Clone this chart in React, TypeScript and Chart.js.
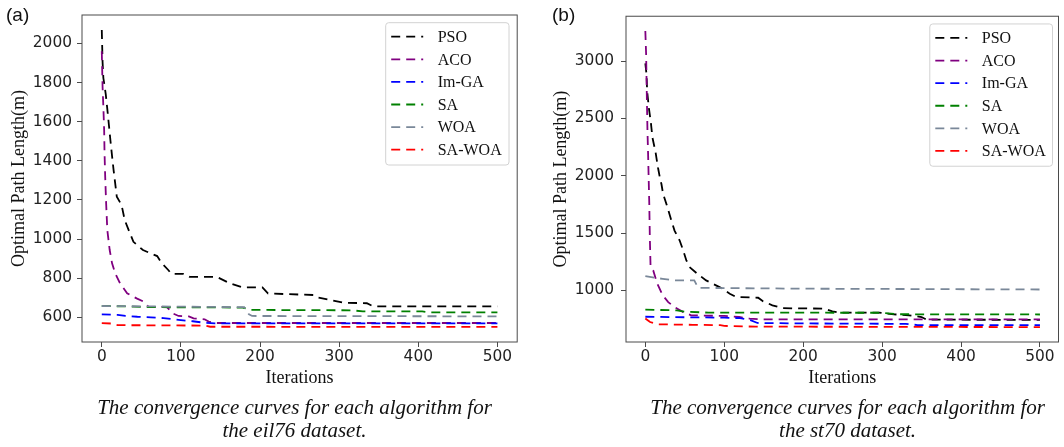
import React, { useEffect, useRef } from "react";
import { Chart, registerables } from "chart.js";

Chart.register(...registerables);

type Pt = [number, number];

const algorithms = ["PSO", "ACO", "Im-GA", "SA", "WOA", "SA-WOA"];
const lineColors = ["#000000", "#800080", "#0000ff", "#008000", "#7a8899", "#ff0000"];

const iterationTicks = [0, 100, 200, 300, 400, 500];
const eil76Ticks = [600, 800, 1000, 1200, 1400, 1600, 1800, 2000];
const st70Ticks = [1000, 1500, 2000, 2500, 3000];

// eil76: best path length vs. iteration, listed at the curve's break points
const eil76PSO: Pt[] = [
  [0, 2068], [1, 1905], [2, 1823], [5, 1741], [7, 1664], [9, 1583], [11, 1501], [13, 1424],
  [15, 1350], [19, 1216], [25, 1174], [29, 1097], [34, 1046], [40, 986], [52, 944], [70, 913],
  [76, 876], [84, 842], [88, 822], [103, 822], [111, 807], [145, 807], [162, 774], [178, 753],
  [203, 753], [210, 722], [268, 714], [273, 702], [290, 688], [305, 675], [335, 672], [343, 656],
  [500, 656],
];
const eil76ACO: Pt[] = [
  [0, 1960], [1, 1778], [2, 1676], [3, 1557], [3.5, 1438], [4.3, 1320], [5.5, 1183], [7, 1046],
  [10, 944], [13, 876], [17, 825], [23, 774], [32, 723], [44, 697], [53, 680], [59, 654],
  [82, 654], [90, 620], [97, 607], [110, 605], [116, 595], [130, 590], [135, 578], [143, 571],
  [500, 571],
];
const eil76ImGA: Pt[] = [
  [0, 615], [20, 613], [30, 607], [45, 603], [62, 600], [78, 596], [97, 587], [115, 580],
  [130, 572], [145, 569], [500, 569],
];
const eil76SA: Pt[] = [
  [0, 658], [40, 655], [60, 652], [178, 650], [188, 638], [315, 636], [330, 631], [405, 630],
  [415, 625], [500, 625],
];
const eil76WOA: Pt[] = [[0, 658], [180, 652], [186, 615], [190, 607], [500, 605]];
const eil76SAWOA: Pt[] = [[0, 570], [15, 568], [20, 560], [130, 558], [137, 552], [500, 551]];

// st70: best path length vs. iteration
const st70PSO: Pt[] = [
  [0, 2980], [1.5, 2884], [2.3, 2739], [4.4, 2594], [7, 2464], [9, 2333], [13, 2203], [16, 2072],
  [19, 1963], [20.4, 1928], [22.5, 1841], [26.7, 1754], [33, 1609], [37, 1522], [43.5, 1435],
  [48, 1348], [52, 1261], [56, 1203], [66, 1145], [77, 1087], [94, 1029], [107, 971], [115, 942],
  [143, 936], [149, 905], [161, 870], [174, 845], [226, 841], [237, 817], [245, 806], [296, 806],
  [315, 791], [334, 783], [350, 768], [356, 745], [500, 743],
];
const st70ACO: Pt[] = [
  [0, 3262], [1, 3058], [1.5, 2855], [2, 2652], [2.7, 2391], [3.5, 2189], [4.2, 1985], [5, 1754],
  [5.7, 1463], [6.6, 1210], [10, 1174], [15, 1060], [22, 957], [29, 898], [37, 855], [48, 811],
  [58, 783], [100, 777], [119, 768], [132, 754], [149, 748], [500, 748],
];
const st70ImGA: Pt[] = [
  [0, 770], [50, 766], [100, 762], [120, 758], [134, 739], [142, 716], [200, 712], [330, 708],
  [345, 698], [500, 697],
];
const st70SA: Pt[] = [[0, 832], [40, 826], [50, 815], [80, 806], [300, 805], [320, 792], [500, 790]];
const st70WOA: Pt[] = [
  [0, 1125], [12, 1110], [22, 1101], [37, 1088], [62, 1087], [67, 1022], [200, 1015], [500, 1008],
];
const st70SAWOA: Pt[] = [
  [0, 755], [3, 740], [6, 724], [16, 704], [60, 700], [95, 697], [100, 690], [140, 684], [500, 680],
];

const eil76Series = [eil76PSO, eil76ACO, eil76ImGA, eil76SA, eil76WOA, eil76SAWOA];
const st70Series = [st70PSO, st70ACO, st70ImGA, st70SA, st70WOA, st70SAWOA];

const DASH = [9, 6];
const LINE_W = 1.8;
const SERIF = "'Liberation Serif', 'Times New Roman', serif";
const SANS = "'DejaVu Sans', sans-serif";

// Closed box around the plotting area
const framePlugin = {
  id: "frame",
  afterDatasetsDraw(chart: any) {
    const { ctx, chartArea: a } = chart;
    ctx.save();
    ctx.setLineDash([]);
    ctx.strokeStyle = "#4a4a4a";
    ctx.lineWidth = 1;
    ctx.strokeRect(a.left, a.top, a.right - a.left, a.bottom - a.top);
    ctx.restore();
  },
};

// Framed legend in the upper right corner of the plotting area
const boxLegendPlugin = {
  id: "boxLegend",
  afterDraw(chart: any, _args: any, opts: any) {
    const { ctx, chartArea: a } = chart;
    const w = opts.width;
    const h = opts.height;
    const x0 = a.right - opts.insetRight - w;
    const y0 = a.top + opts.insetTop;
    ctx.save();
    ctx.setLineDash([]);
    ctx.beginPath();
    if ((ctx as any).roundRect) (ctx as any).roundRect(x0, y0, w, h, 3);
    else ctx.rect(x0, y0, w, h);
    ctx.fillStyle = "rgba(255,255,255,0.9)";
    ctx.fill();
    ctx.strokeStyle = "#d2d2d2";
    ctx.lineWidth = 1;
    ctx.stroke();
    chart.data.datasets.forEach((ds: any, i: number) => {
      const cy = y0 + 14 + i * 22.6;
      ctx.beginPath();
      ctx.setLineDash(DASH);
      ctx.lineDashOffset = 0;
      ctx.strokeStyle = ds.borderColor;
      ctx.lineWidth = LINE_W;
      ctx.moveTo(x0 + 5.5, cy);
      ctx.lineTo(x0 + 37.5, cy);
      ctx.stroke();
      ctx.setLineDash([]);
      ctx.fillStyle = "#111";
      ctx.font = `16px ${SERIF}`;
      ctx.textAlign = "left";
      ctx.textBaseline = "middle";
      ctx.fillText(ds.label, x0 + 52, cy + 1);
    });
    ctx.restore();
  },
};

type PanelProps = {
  left: number;
  width: number;
  series: Pt[][];
  yTicks: number[];
  yMin: number;
  yMax: number;
  xMin: number;
  xMax: number;
  yAxisWidth: number;
  yTitlePad: number;
  yTickPad: number;
  rightPad: number;
  legendInsetRight: number;
  legendWidth: number;
};

function Panel(p: PanelProps) {
  const ref = useRef<HTMLCanvasElement>(null);
  useEffect(() => {
    const tickFont = { family: SANS, size: 15.4 };
    const chart = new Chart(ref.current as HTMLCanvasElement, {
      type: "line",
      data: {
        datasets: p.series.map((pts, i) => ({
          label: algorithms[i],
          data: pts.map(([x, y]) => ({ x, y })),
          borderColor: lineColors[i],
          backgroundColor: lineColors[i],
          borderDash: DASH,
          borderWidth: LINE_W,
          pointRadius: 0,
          fill: false,
          tension: 0,
          order: algorithms.length - 1 - i,
        })),
      },
      options: {
        animation: false,
        responsive: false,
        maintainAspectRatio: false,
        events: [],
        layout: { padding: { left: 0, top: 15, right: p.rightPad, bottom: 8 } },
        plugins: {
          legend: { display: false },
          tooltip: { enabled: false },
          boxLegend: {
            width: p.legendWidth,
            height: 142.3,
            insetRight: p.legendInsetRight,
            insetTop: 7.7,
          },
        } as any,
        scales: {
          x: {
            type: "linear",
            min: p.xMin,
            max: p.xMax,
            afterBuildTicks: (s: any) => {
              s.ticks = iterationTicks.map((v) => ({ value: v }));
            },
            afterFit: (s: any) => {
              s.height = 50;
            },
            grid: { display: true, drawOnChartArea: false, drawTicks: true, tickLength: 5, color: "#4a4a4a" },
            border: { display: false },
            ticks: {
              font: tickFont,
              color: "#222",
              padding: 1,
              maxRotation: 0,
              autoSkip: false,
              callback: (v: any) => String(v),
            },
            title: {
              display: true,
              text: "Iterations",
              font: { family: SERIF, size: 18 },
              color: "#111",
              padding: { top: 0, bottom: 3.4 },
            },
          },
          y: {
            type: "linear",
            min: p.yMin,
            max: p.yMax,
            afterBuildTicks: (s: any) => {
              s.ticks = p.yTicks.map((v) => ({ value: v }));
            },
            afterFit: (s: any) => {
              s.width = p.yAxisWidth;
            },
            grid: { display: true, drawOnChartArea: false, drawTicks: true, tickLength: 5, color: "#4a4a4a" },
            border: { display: false },
            ticks: {
              font: tickFont,
              color: "#222",
              padding: p.yTickPad,
              autoSkip: false,
              callback: (v: any) => String(v),
            },
            title: {
              display: true,
              text: "Optimal Path Length(m)",
              font: { family: SERIF, size: 18 },
              color: "#111",
              padding: { top: p.yTitlePad, bottom: 0 },
            },
          },
        },
      } as any,
      plugins: [framePlugin, boxLegendPlugin],
    });
    return () => chart.destroy();
  }, []);
  return (
    <canvas
      ref={ref}
      width={p.width}
      height={400}
      style={{ position: "absolute", left: p.left, top: 0, width: p.width, height: 400, display: "block" }}
    />
  );
}

const captionStyle: React.CSSProperties = {
  position: "absolute",
  top: 396.4,
  width: 480,
  textAlign: "center",
  fontFamily: SERIF,
  fontStyle: "italic",
  fontSize: 21,
  lineHeight: "23px",
  color: "#111",
  whiteSpace: "nowrap",
};

const panelLabelStyle: React.CSSProperties = {
  position: "absolute",
  top: 5,
  fontFamily: "'Liberation Sans', Arial, sans-serif",
  fontSize: 19,
  lineHeight: "19px",
  color: "#111",
};

export default function App() {
  return (
    <div
      style={{
        position: "absolute",
        left: 0,
        top: 0,
        width: 1064,
        height: 447,
        background: "#fff",
        overflow: "hidden",
      }}
    >
      <Panel
        left={0}
        width={530}
        series={eil76Series}
        yTicks={eil76Ticks}
        yMin={474}
        yMax={2145}
        xMin={-25}
        xMax={525}
        yAxisWidth={82}
        yTitlePad={8.2}
        yTickPad={5}
        rightPad={12.8}
        legendInsetRight={8.2}
        legendWidth={123.3}
      />
      <Panel
        left={530}
        width={534}
        series={st70Series}
        yTicks={st70Ticks}
        yMin={550}
        yMax={3391}
        xMin={-24.5}
        xMax={523.5}
        yAxisWidth={96}
        yTitlePad={20.7}
        yTickPad={7}
        rightPad={5.5}
        legendInsetRight={6}
        legendWidth={122.7}
      />
      <div style={{ ...panelLabelStyle, left: 6 }}>(a)</div>
      <div style={{ ...panelLabelStyle, left: 552 }}>(b)</div>
      <div style={{ ...captionStyle, left: 294.5 - 240 }}>
        The convergence curves for each algorithm for
        <br />
        the eil76 dataset.
      </div>
      <div style={{ ...captionStyle, left: 847.6 - 240 }}>
        The convergence curves for each algorithm for
        <br />
        the st70 dataset.
      </div>
    </div>
  );
}
